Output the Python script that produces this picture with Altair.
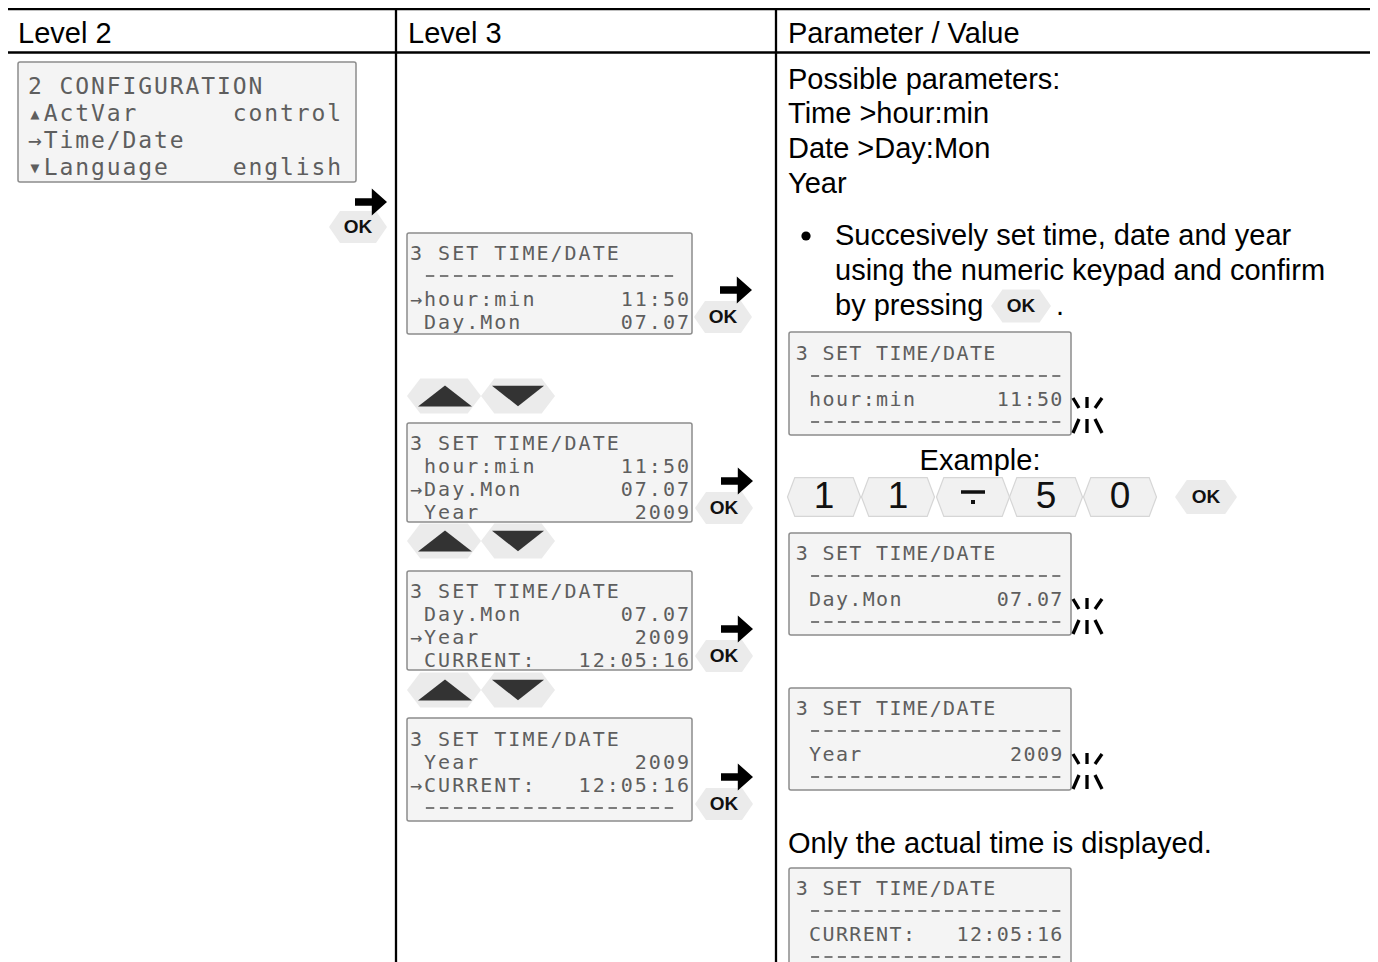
import altair as alt
import pandas as pd

# ------------------------------------------------------------------ content
headers = ["Level 2", "Level 3", "Parameter / Value"]


def lcd_line(left, right=""):
    return left.ljust(20 - len(right)) + right


dash_l3 = " " + "-" * 18
dash_r = " " + "-" * 19

lcd_level2 = ["2 CONFIGURATION", lcd_line("▴ActVar", "control"), "→Time/Date",
              lcd_line("▾Language", "english")]
lcd_step_a = ["3 SET TIME/DATE", dash_l3, lcd_line("→hour:min", "11:50"), lcd_line(" Day.Mon", "07.07")]
lcd_step_b = ["3 SET TIME/DATE", lcd_line(" hour:min", "11:50"), lcd_line("→Day.Mon", "07.07"),
              lcd_line(" Year", "2009")]
lcd_step_c = ["3 SET TIME/DATE", lcd_line(" Day.Mon", "07.07"), lcd_line("→Year", "2009"),
              lcd_line(" CURRENT:", "12:05:16")]
lcd_step_d = ["3 SET TIME/DATE", lcd_line(" Year", "2009"), lcd_line("→CURRENT:", "12:05:16"), dash_l3]
lcd_edit_time = ["3 SET TIME/DATE", dash_r, lcd_line(" hour:min", "11:50"), dash_r]
lcd_edit_date = ["3 SET TIME/DATE", dash_r, lcd_line(" Day.Mon", "07.07"), dash_r]
lcd_edit_year = ["3 SET TIME/DATE", dash_r, lcd_line(" Year", "2009"), dash_r]
lcd_current = ["3 SET TIME/DATE", dash_r, lcd_line(" CURRENT:", "12:05:16"), dash_r]

params_intro = ["Possible parameters:", "Time >hour:min", "Date >Day:Mon", "Year"]
bullet_lines = ["Succesively set time, date and year", "using the numeric keypad and confirm",
                "by pressing"]
example_label = "Example:"
keypad_keys = ["1", "1", "sep", "5", "0"]
note_text = "Only the actual time is displayed."
ok_label = "OK"

# ------------------------------------------------------------------ layout
W, H = 1362, 954
X0, Y0 = 8, 8
xs = alt.Scale(domain=[X0, X0 + W], nice=False, zero=False)
ys = alt.Scale(domain=[Y0 + H, Y0], nice=False, zero=False)


def X(f="x"):
    return alt.X(f"{f}:Q", scale=xs, axis=None)


def Y(f="y"):
    return alt.Y(f"{f}:Q", scale=ys, axis=None)


MAIN_FONT = "Liberation Sans"
LCD_FONT = "DejaVu Sans Mono"

lcd_layout = [
    (lcd_level2, (18, 62, 356, 182), 27, 15.75, 86, 27, 23),
    (lcd_step_a, (407, 233, 692, 334), 409, 14.05, 253, 23, 20),
    (lcd_step_b, (407, 423, 692, 522), 409, 14.05, 443, 23, 20),
    (lcd_step_c, (407, 571, 692, 670), 409, 14.05, 591, 23, 20),
    (lcd_step_d, (407, 718, 692, 821), 409, 14.05, 739, 23, 20),
    (lcd_edit_time, (789, 332, 1071, 435), 795, 13.4, 353, 23, 20),
    (lcd_edit_date, (789, 533, 1071, 635), 795, 13.4, 553, 23, 20),
    (lcd_edit_year, (789, 688, 1071, 790), 795, 13.4, 708, 23, 20),
    (lcd_current, (789, 868, 1071, 985), 795, 13.4, 888, 23, 20),
]

box_rows, char_rows, dash_rows = [], [], []
for lines, (bx0, by0, bx1, by1), c0, pitch, ly0, dy, fs in lcd_layout:
    box_rows.append(dict(x=bx0, x2=bx1, y=by0, y2=by1))
    for i, line in enumerate(lines):
        y = ly0 + i * dy
        for j, ch in enumerate(line):
            left = c0 + j * pitch
            if ch == "-":
                dash_rows.append(dict(x=left + pitch * 0.2, x2=left + pitch * 0.8, y=y))
            elif ch != " ":
                char_rows.append(dict(x=left + pitch / 2, y=y + 1, t=ch, fs=fs))

boxes = alt.Chart(pd.DataFrame(box_rows)).mark_rect(
    fill="#f4f4f4", stroke="#8c8c8c", strokeWidth=1.5, cornerRadius=2, clip=True
).encode(x=X(), x2="x2:Q", y=Y(), y2="y2:Q")

lcd_chars = alt.Chart(pd.DataFrame(char_rows)).mark_text(
    font=LCD_FONT, align="center", baseline="middle", color="#5e5e5e"
).encode(x=X(), y=Y(), text="t:N", size=alt.Size("fs:Q", scale=None))

lcd_dashes = alt.Chart(pd.DataFrame(dash_rows)).mark_rule(
    color="#6e6e6e", strokeWidth=1.8
).encode(x=X(), x2="x2:Q", y=Y())

# table grid
grid = alt.Chart(pd.DataFrame([
    dict(x=0, x2=1371, y=9, y2=9),
    dict(x=0, x2=1371, y=52.5, y2=52.5),
    dict(x=396, x2=396, y=9, y2=962),
    dict(x=776, x2=776, y=9, y2=962),
])).mark_rule(color="#000000", strokeWidth=2.3).encode(x=X(), x2="x2:Q", y=Y(), y2="y2:Q")

# headers
header_df = pd.DataFrame(dict(x=[18, 408, 788], y=[34, 34, 34], t=headers))
header_text = alt.Chart(header_df).mark_text(
    font=MAIN_FONT, fontSize=29, align="left", baseline="middle", color="#000000"
).encode(x=X(), y=Y(), text="t:N")

# body text
body_rows = [dict(x=788, y=y, t=t) for t, y in zip(params_intro, [80, 114, 149, 184])]
body_rows += [dict(x=835, y=y, t=t) for t, y in zip(bullet_lines, [236, 271, 306])]
body_rows += [dict(x=1056, y=306, t="."), dict(x=788, y=844, t=note_text)]
body_text = alt.Chart(pd.DataFrame(body_rows)).mark_text(
    font=MAIN_FONT, fontSize=29, align="left", baseline="middle", color="#000000"
).encode(x=X(), y=Y(), text="t:N")

example_text = alt.Chart(pd.DataFrame([dict(x=980, y=461, t=example_label)])).mark_text(
    font=MAIN_FONT, fontSize=29, align="center", baseline="middle", color="#000000"
).encode(x=X(), y=Y(), text="t:N")

bullet = alt.Chart(pd.DataFrame([dict(x=806, y=236)])).mark_point(
    shape="circle", filled=True, size=85, opacity=1, color="#000000"
).encode(x=X(), y=Y())

# buttons (hexagons, triangles, arrows)
HEX_OK = "M-1,0L-0.62,-0.55L0.62,-0.55L1,0L0.62,0.55L-0.62,0.55Z"
HEX_NAV = "M-1,0L-0.64,-0.47L0.64,-0.47L1,0L0.64,0.47L-0.64,0.47Z"
TRI_UP = "M-1,0.39L1,0.39L0,-0.39Z"
TRI_DN = "M-1,-0.39L1,-0.39L0,0.39Z"
ARROW = "M-1,-0.24L0.05,-0.24L0.05,-0.85L1,0L0.05,0.85L0.05,0.24L-1,0.24Z"
HEX_KEY = "M-1,0L-0.8,-0.53L0.8,-0.53L1,0L0.8,0.53L-0.8,0.53Z"

arrow_groups = [(371, 202, 358, 227), (736, 290, 723, 317), (737, 481, 724, 508),
                (737, 629, 724, 656), (737, 777, 724, 804)]
nav_rows_y = [396, 541, 690]

shape_rows = []
ok_rows = []
for ax, ay, ox, oy in arrow_groups:
    shape_rows.append(dict(x=ox, y=oy, s=HEX_OK, sz=58 ** 2, c="#ebebeb"))
    shape_rows.append(dict(x=ax, y=ay, s=ARROW, sz=32 ** 2, c="#000000"))
    ok_rows.append(dict(x=ox, y=oy, t=ok_label))
for ny in nav_rows_y:
    shape_rows.append(dict(x=444, y=ny, s=HEX_NAV, sz=74 ** 2, c="#ebebeb"))
    shape_rows.append(dict(x=518, y=ny, s=HEX_NAV, sz=74 ** 2, c="#ebebeb"))
    shape_rows.append(dict(x=445, y=ny, s=TRI_UP, sz=54 ** 2, c="#333333"))
    shape_rows.append(dict(x=518, y=ny, s=TRI_DN, sz=52 ** 2, c="#333333"))
# inline OK and keypad OK
shape_rows.append(dict(x=1021, y=306, s=HEX_OK, sz=60 ** 2, c="#ebebeb"))
ok_rows.append(dict(x=1021, y=306, t=ok_label))
shape_rows.append(dict(x=1206, y=497, s=HEX_OK, sz=62 ** 2, c="#ebebeb"))
ok_rows.append(dict(x=1206, y=497, t=ok_label))

shapes = alt.Chart(pd.DataFrame(shape_rows)).mark_point(filled=True, opacity=1, strokeWidth=0).encode(
    x=X(), y=Y(),
    shape=alt.Shape("s:N", scale=None),
    size=alt.Size("sz:Q", scale=None),
    color=alt.Color("c:N", scale=None),
)

ok_text = alt.Chart(pd.DataFrame(ok_rows)).mark_text(
    font=MAIN_FONT, fontSize=19, fontWeight="bold", align="center", baseline="middle", color="#111111"
).encode(x=X(), y=Y("y"), text="t:N")

# keypad keys
key_x = [824, 898, 973, 1046, 1120]
key_df = pd.DataFrame(dict(x=key_x, y=[497] * 5, t=keypad_keys, s=[HEX_KEY] * 5, sz=[73 ** 2] * 5))
keys = alt.Chart(key_df).mark_point(
    filled=True, opacity=1, fill="#f1f1f1", stroke="#d6d6d6", strokeWidth=1.2
).encode(x=X(), y=Y(), shape=alt.Shape("s:N", scale=None), size=alt.Size("sz:Q", scale=None))

digit_df = key_df[key_df.t != "sep"]
digits = alt.Chart(digit_df).mark_text(
    font=MAIN_FONT, fontSize=37, align="center", baseline="middle", color="#111111"
).encode(x=X(), y=Y(), text="t:N")

sep_bar = alt.Chart(pd.DataFrame([dict(x=961, x2=985, y=492)])).mark_rule(
    color="#111111", strokeWidth=3.5
).encode(x=X(), x2="x2:Q", y=Y())
sep_dot = alt.Chart(pd.DataFrame([dict(x=973, y=502)])).mark_point(
    shape="square", filled=True, opacity=1, size=16, color="#111111"
).encode(x=X(), y=Y())

# blink symbols beside the edited values
blink_centres = [(1087, 408), (1087, 609), (1087, 764)]
blink_strokes = [(-14, -10, -8, 0), (0, -11, 0, 0), (15, -10, 8, 0),
                 (-8, 11, -14, 25), (0, 11, 0, 25), (8, 11, 15, 25)]
blink_rows = [dict(x=cx + a, y=cy + b, x2=cx + c, y2=cy + d)
              for cx, cy in blink_centres for a, b, c, d in blink_strokes]
blink = alt.Chart(pd.DataFrame(blink_rows)).mark_rule(color="#000000", strokeWidth=3.3).encode(
    x=X(), y=Y(), x2="x2:Q", y2="y2:Q")

chart = alt.layer(
    grid, boxes, lcd_dashes, lcd_chars, header_text, body_text, example_text, bullet,
    shapes, ok_text, keys, digits, sep_bar, sep_dot, blink,
).properties(
    width=W, height=H, padding=0, autosize=alt.AutoSizeParams(type="none"), background="#ffffff"
).configure_view(stroke=None)

chart.save("out.html", embed_options={"renderer": "svg", "actions": False})
